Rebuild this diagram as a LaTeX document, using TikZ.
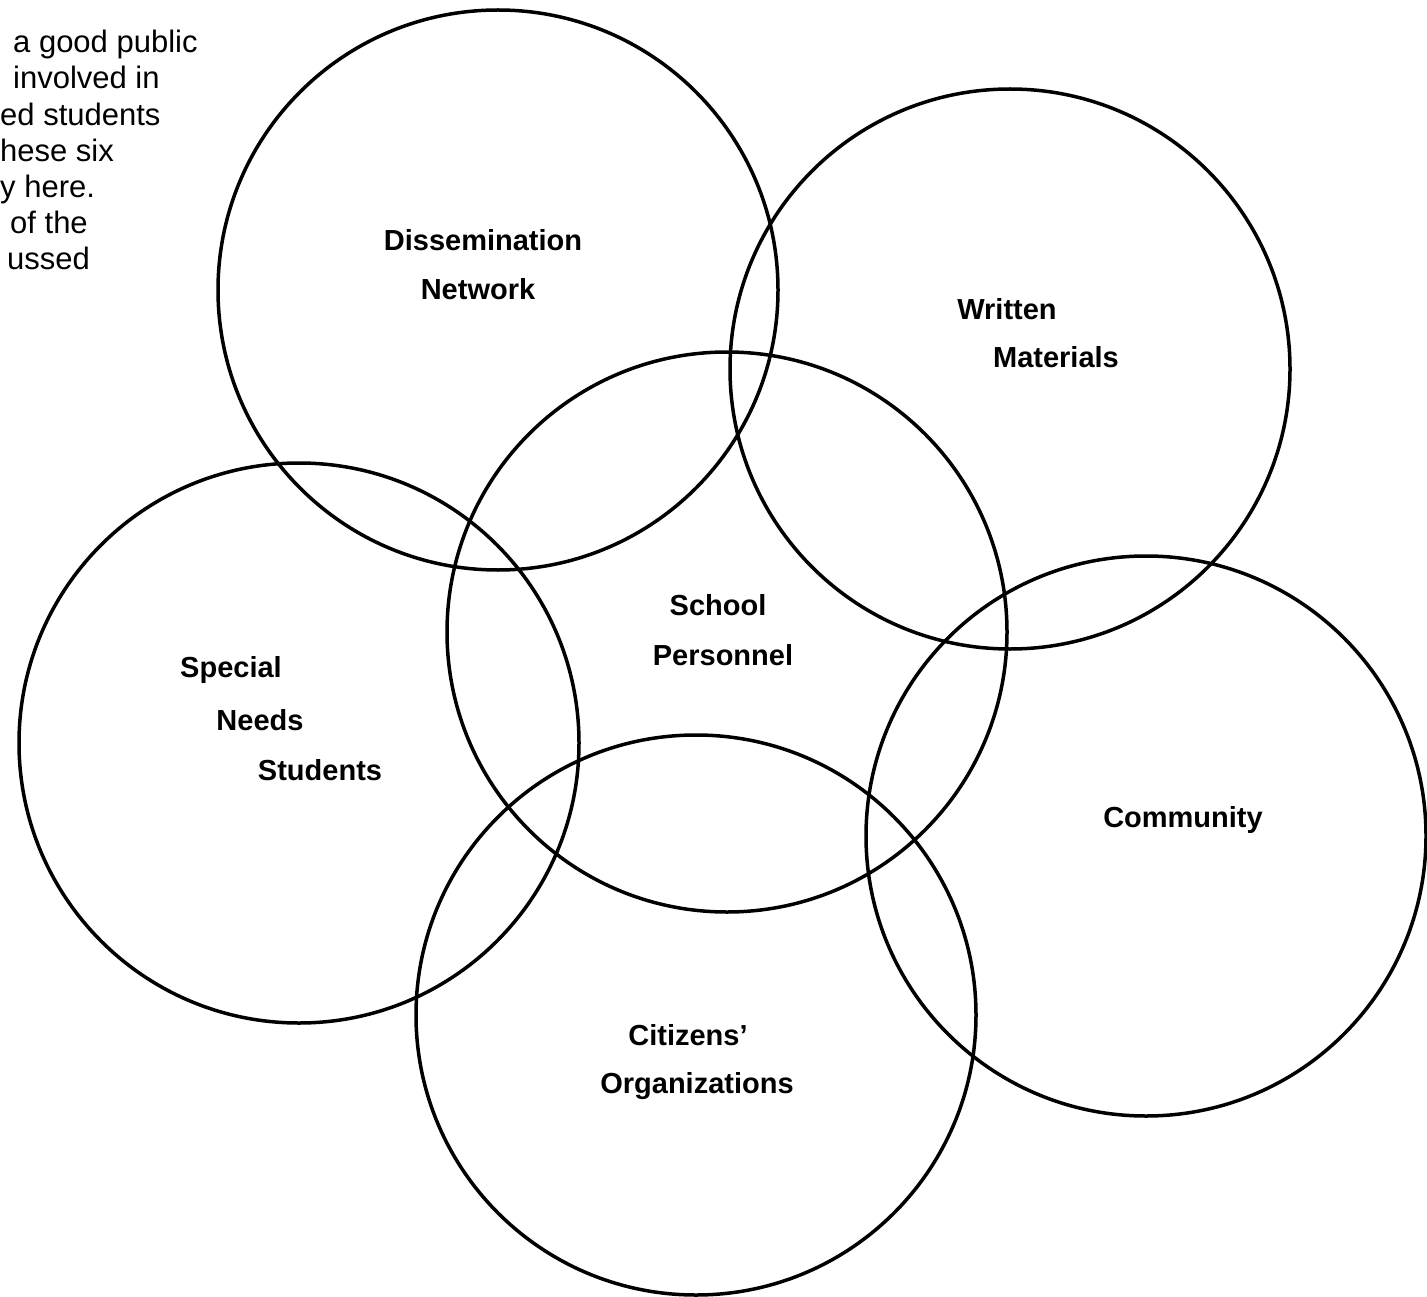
\documentclass[tikz,border=0pt]{standalone}
\usepackage{fontspec}
\setmainfont{Liberation Sans}
\usetikzlibrary{positioning}

\begin{document}
\begin{tikzpicture}[x=1pt, y=-1pt,
    ring/.style={line width=3.5pt},
    lbl/.style={font=\fontsize{29}{31}\selectfont\bfseries, inner sep=0pt},
    body/.style={font=\fontsize{31}{33}\selectfont, inner sep=0pt, anchor=base west}]
    \useasboundingbox (0,0) rectangle (1427,1297);

    % centres of the six circles
    \coordinate (dis) at (498,290);
    \coordinate (wri) at (1010,369);
    \coordinate (sch) at (727,632);
    \coordinate (spe) at (299,743);
    \coordinate (com) at (1146,836);
    \coordinate (cit) at (696,1015);

    \foreach \c in {dis,wri,sch,spe,com,cit}
        \draw[ring] (\c) circle[radius=280pt];

    % labels
    \node[lbl] (dis1) at (483,240) {Dissemination};
    \node[lbl] (dis2) at (478,289) {Network};
    \node[lbl] (wri1) at (1007,309) {Written};
    \node[lbl] (wri2) at (1056,357) {Materials};
    \node[lbl] (sch1) at (718,605) {School};
    \node[lbl] (sch2) at (723,655) {Personnel};
    \node[lbl] (spe1) at (231,670) {Special};
    \node[lbl] (spe2) at (260,720) {Needs};
    \node[lbl] (spe3) at (320,770) {Students};
    \node[lbl] (com1) at (1183,820) {Community};
    \node[lbl] (cit1) at (688,1035) {Citizens'};
    \node[lbl] (cit2) at (697,1086) {Organizations};

    % cut-off text at the top left
    \node[body] (t1) at (13,53) {a good public};
    \node[body] (t2) at (13,89) {involved in};
    \node[body] (t3) at (0,126) {ed students};
    \node[body] (t4) at (0,162) {hese six};
    \node[body] (t5) at (0,198) {y here.};
    \node[body] (t6) at (10,234) {of the};
    \node[body] (t7) at (7,270) {ussed};
\end{tikzpicture}
\end{document}
